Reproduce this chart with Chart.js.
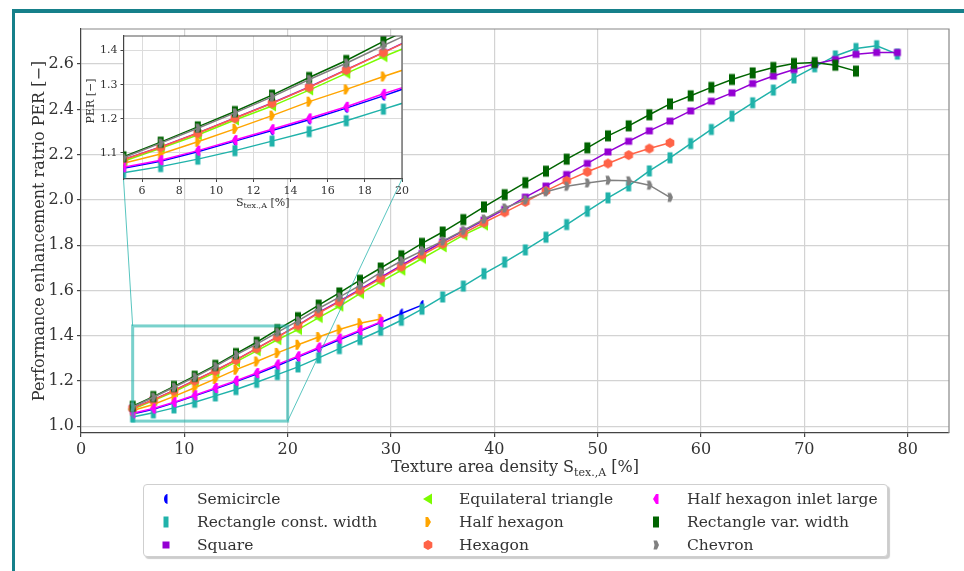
<!DOCTYPE html>
<html lang="en">
<head>
<meta charset="utf-8">
<title>PER vs texture area density</title>
<script src="https://cdn.jsdelivr.net/npm/chart.js"></script>
<style>
  body { margin: 0; background: #fff; font-family: "DejaVu Serif", "Liberation Serif", serif; }
  #wrap { position: relative; width: 964px; height: 571px; overflow: hidden; background: #fff; }
  #frame { position: absolute; left: 12px; top: 9px; width: 1000px; height: 600px;
           border-left: 3px solid #16808a; border-top: 4px solid #16808a; }
  #main { position: absolute; left: 0; top: 0; }
  #inset { position: absolute; left: 70px; top: 25px; }
  #legend { position: absolute; left: 143px; top: 484px; width: 745px; height: 73px;
            box-sizing: border-box; border: 1px solid #cfcfcf; border-radius: 4px;
            box-shadow: 2px 2px 1px rgba(0,0,0,0.2); background: #fff;
            display: grid; grid-template-rows: repeat(3, 23px); grid-auto-flow: column;
            grid-template-columns: 262px 228px auto; padding: 2px 0 0 14px; }
  .item { display: flex; align-items: center; font-family: "DejaVu Serif", "Liberation Serif", serif;
          font-size: 15.5px; color: #333; white-space: nowrap; }
  .item canvas { margin-right: 23px; }
</style>
</head>
<body>
<div id="wrap">
  <div id="frame"></div>
  <canvas id="main" width="964" height="571"></canvas>
  <canvas id="inset" width="345" height="195"></canvas>
  <div id="legend"></div>
</div>
<script>
// x positions of the measurements (texture area density, %)
const X_POS = [5, 7, 9, 11, 13, 15, 17, 19, 21, 23, 25, 27, 29, 31, 33, 35, 37, 39, 41, 43,
               45, 47, 49, 51, 53, 55, 57, 59, 61, 63, 65, 67, 69, 71, 73, 75, 77, 79];

// PER values per texture shape
const SEMICIRCLE = [1.054, 1.075, 1.103, 1.134, 1.165, 1.197, 1.231, 1.267, 1.305, 1.343, 1.382, 1.420, 1.458, 1.498, 1.535];
const RECT_CONST = [1.041, 1.059, 1.081, 1.106, 1.134, 1.162, 1.194, 1.228,
                    1.262, 1.302, 1.343, 1.383, 1.424, 1.468, 1.517, 1.571, 1.619, 1.674,
                    1.725, 1.779, 1.835, 1.891, 1.950, 2.009, 2.062, 2.128, 2.186, 2.249,
                    2.311, 2.370, 2.429, 2.485, 2.539, 2.588, 2.636, 2.669, 2.681, 2.644];
const SQUARE = [1.080, 1.117, 1.158, 1.202, 1.246, 1.293, 1.344, 1.395,
                1.447, 1.503, 1.552, 1.604, 1.657, 1.711, 1.763, 1.815, 1.862, 1.910,
                1.958, 2.012, 2.061, 2.112, 2.161, 2.212, 2.259, 2.305, 2.348, 2.393,
                2.436, 2.473, 2.514, 2.547, 2.576, 2.600, 2.620, 2.643, 2.651, 2.651];
const TRIANGLE = [1.075, 1.113, 1.152, 1.196, 1.237, 1.284, 1.333, 1.382,
                  1.427, 1.480, 1.530, 1.586, 1.638, 1.689, 1.741, 1.792, 1.844, 1.888];
const HALF_HEX = [1.069, 1.096, 1.132, 1.170, 1.209, 1.250, 1.286, 1.324, 1.360, 1.394, 1.427, 1.455, 1.474];
const HEXAGON = [1.079, 1.116, 1.157, 1.201, 1.245, 1.292, 1.343, 1.394,
                 1.445, 1.500, 1.549, 1.600, 1.652, 1.705, 1.756, 1.806, 1.852, 1.900,
                 1.945, 1.991, 2.040, 2.084, 2.124, 2.161, 2.198, 2.227, 2.252];
const HALF_HEX_INLET = [1.057, 1.078, 1.106, 1.137, 1.169, 1.201, 1.235, 1.273, 1.309, 1.348, 1.387, 1.424, 1.461];
const RECT_VAR = [1.088, 1.131, 1.176, 1.221, 1.269, 1.321, 1.371, 1.427,
                  1.480, 1.535, 1.589, 1.645, 1.699, 1.753, 1.808, 1.858, 1.913, 1.969,
                  2.023, 2.076, 2.127, 2.180, 2.230, 2.283, 2.327, 2.376, 2.424, 2.460,
                  2.497, 2.532, 2.561, 2.585, 2.603, 2.607, 2.595, 2.569];
const CHEVRON = [1.085, 1.128, 1.172, 1.217, 1.264, 1.315, 1.363, 1.415,
                 1.465, 1.520, 1.570, 1.622, 1.680, 1.730, 1.775, 1.818, 1.865, 1.915,
                 1.964, 2.000, 2.036, 2.060, 2.075, 2.087, 2.084, 2.065, 2.011];

// legend order (matplotlib fills columns first)
const NAMES = ['Semicircle', 'Rectangle const. width', 'Square', 'Equilateral triangle', 'Half hexagon',
               'Hexagon', 'Half hexagon inlet large', 'Rectangle var. width', 'Chevron'];
const VALUES = [SEMICIRCLE, RECT_CONST, SQUARE, TRIANGLE, HALF_HEX, HEXAGON, HALF_HEX_INLET, RECT_VAR, CHEVRON];
const COLORS = ['#0000ff', '#20b2aa', '#9400d3', '#7cfc00', '#ffa500', '#ff6347', '#ff00ff', '#006400', '#808080'];
const MARKERS = ['semicircle', 'rectConst', 'square', 'triangle', 'halfHex', 'hexagon', 'halfHexInlet', 'rectVar', 'chevron'];

// ticks and ranges
const X_TICKS = [0, 10, 20, 30, 40, 50, 60, 70, 80];
const Y_TICKS = [1.0, 1.2, 1.4, 1.6, 1.8, 2.0, 2.2, 2.4, 2.6];
const INSET_X_TICKS = [6, 8, 10, 12, 14, 16, 18, 20];
const INSET_Y_TICKS = [1.1, 1.2, 1.3, 1.4];
const INSET_X = [5, 20];
const INSET_Y = [1.0226, 1.443];

const FONT = '"DejaVu Serif", "Liberation Serif", serif';
const INSET_LEFT = 70, INSET_TOP = 25;

function poly(g, pts) {
  g.moveTo(pts[0][0], pts[0][1]);
  for (let i = 1; i < pts.length; i++) g.lineTo(pts[i][0], pts[i][1]);
}

function makeMarker(kind, color) {
  const c = document.createElement('canvas');
  c.width = 16; c.height = 16;
  const g = c.getContext('2d');
  const cx = 8, cy = 8;
  g.fillStyle = color;
  g.beginPath();
  switch (kind) {
    case 'semicircle': g.ellipse(cx + 1.5, cy, 3.5, 5, 0, Math.PI / 2, Math.PI * 1.5); break;
    case 'rectConst': g.rect(cx - 2.5, cy - 5.5, 5, 11); break;
    case 'rectVar': g.rect(cx - 3, cy - 5.5, 6, 11); break;
    case 'square': g.rect(cx - 3.5, cy - 3.5, 7, 7); break;
    case 'triangle': poly(g, [[cx - 5, cy], [cx + 4, cy - 5.5], [cx + 4, cy + 5.5]]); break;
    case 'halfHex': poly(g, [[cx - 2.5, cy - 5], [cx, cy - 5], [cx + 3, cy], [cx, cy + 5], [cx - 2.5, cy + 5]]); break;
    case 'halfHexInlet': poly(g, [[cx + 2.5, cy - 5], [cx, cy - 5], [cx - 3, cy], [cx, cy + 5], [cx + 2.5, cy + 5]]); break;
    case 'hexagon': {
      const pts = [];
      for (let k = 0; k < 6; k++) {
        const a = Math.PI / 2 + k * Math.PI / 3;
        pts.push([cx + 5 * Math.cos(a), cy + 5 * Math.sin(a)]);
      }
      poly(g, pts);
      break;
    }
    case 'chevron': poly(g, [[cx - 2.5, cy - 4.5], [cx + 1, cy - 4.5], [cx + 3, cy], [cx + 1, cy + 4.5], [cx - 2.5, cy + 4.5], [cx - 1.5, cy]]); break;
  }
  g.closePath();
  g.fill();
  return c;
}

function buildDatasets(clip) {
  return NAMES.map((name, i) => ({
    label: name,
    data: VALUES[i].map((v, j) => ({ x: X_POS[j], y: v })),
    borderColor: COLORS[i],
    backgroundColor: COLORS[i],
    borderWidth: 1.5,
    pointStyle: makeMarker(MARKERS[i], COLORS[i]),
    pointRadius: 5,
    tension: 0,
    order: NAMES.length - i,
    clip: clip
  }));
}

function drawSubLabel(ctx, cx, cy, main, sub, tail, size) {
  const big = size + 'px ' + FONT, small = Math.round(size * 0.7) + 'px ' + FONT;
  ctx.font = big; const w1 = ctx.measureText(main).width, w3 = ctx.measureText(tail).width;
  ctx.font = small; const w2 = ctx.measureText(sub).width;
  let x = cx - (w1 + w2 + w3) / 2;
  ctx.textAlign = 'left'; ctx.textBaseline = 'middle';
  ctx.font = big; ctx.fillText(main, x, cy); x += w1;
  ctx.font = small; ctx.fillText(sub, x, cy + size * 0.3); x += w2;
  ctx.font = big; ctx.fillText(tail, x, cy);
}

function axisOpts(min, max, ticks, fmt, size, tickLen, fitProp, fitVal, gridColor, gridWidth) {
  return {
    type: 'linear', min: min, max: max,
    afterBuildTicks: s => { s.ticks = ticks.map(v => ({ value: v })); },
    afterFit: s => { s[fitProp] = fitVal; },
    grid: { color: gridColor, lineWidth: gridWidth, tickColor: '#444', tickLength: tickLen, drawTicks: true },
    border: { color: '#444', width: 1.2 },
    ticks: { callback: fmt, color: '#333', padding: 3, font: { family: FONT, size: size } }
  };
}

const insetDecor = {
  id: 'insetDecor',
  beforeDraw(chart) {
    const { ctx, chartArea: a } = chart;
    ctx.save();
    ctx.fillStyle = '#fff';
    ctx.fillRect(a.left, a.top, a.right - a.left, a.bottom - a.top);
    ctx.restore();
  },
  afterDraw(chart) {
    const { ctx, chartArea: a } = chart;
    ctx.save();
    ctx.strokeStyle = '#555'; ctx.lineWidth = 1.2;
    ctx.beginPath();
    ctx.moveTo(a.left, a.top); ctx.lineTo(a.right, a.top); ctx.lineTo(a.right, a.bottom);
    ctx.stroke();
    ctx.fillStyle = '#333';
    ctx.translate(21, 76); ctx.rotate(-Math.PI / 2);
    ctx.font = '11px ' + FONT; ctx.textAlign = 'center'; ctx.textBaseline = 'middle';
    ctx.fillText('PER [\u2212]', 0, 0);
    ctx.restore();
    ctx.save();
    ctx.fillStyle = '#333';
    drawSubLabel(ctx, (a.left + a.right) / 2, 178, 'S', 'tex.,A', ' [%]', 11);
    ctx.restore();
  }
};

const insetChart = new Chart(document.getElementById('inset'), {
  type: 'line',
  data: { datasets: buildDatasets(0) },
  options: {
    animation: false, responsive: false,
    layout: { padding: { left: 0, top: 11, right: 13, bottom: 0 } },
    plugins: { legend: { display: false }, tooltip: { enabled: false } },
    scales: {
      x: axisOpts(INSET_X[0], INSET_X[1], INSET_X_TICKS, v => String(v), 11, 3, 'height', 41, '#dcdcdc', 1),
      y: axisOpts(INSET_Y[0], INSET_Y[1], INSET_Y_TICKS, v => v.toFixed(1), 11, 3, 'width', 53.5, '#dcdcdc', 1)
    }
  },
  plugins: [insetDecor]
});

const mainDecor = {
  id: 'mainDecor',
  afterDatasetsDraw(chart) {
    const { ctx, scales: { x, y } } = chart;
    const rx0 = x.getPixelForValue(INSET_X[0]), rx1 = x.getPixelForValue(INSET_X[1]);
    const ryTop = y.getPixelForValue(INSET_Y[1]), ryBot = y.getPixelForValue(INSET_Y[0]);
    const ix = insetChart.scales.x, iy = insetChart.scales.y;
    const iLeft = INSET_LEFT + ix.getPixelForValue(INSET_X[0]);
    const iRight = INSET_LEFT + ix.getPixelForValue(INSET_X[1]);
    const iBot = INSET_TOP + iy.getPixelForValue(INSET_Y[0]);
    ctx.save();
    ctx.strokeStyle = 'rgba(32,178,170,0.75)'; ctx.lineWidth = 1;
    ctx.beginPath();
    ctx.moveTo(iLeft, iBot); ctx.lineTo(rx0, ryTop);
    ctx.moveTo(iRight, iBot); ctx.lineTo(rx1, ryBot);
    ctx.stroke();
    ctx.strokeStyle = 'rgba(32,178,170,0.6)'; ctx.lineWidth = 3;
    ctx.strokeRect(rx0, ryTop, rx1 - rx0, ryBot - ryTop);
    ctx.restore();
  },
  afterDraw(chart) {
    const { ctx, chartArea: a } = chart;
    ctx.save();
    ctx.strokeStyle = '#888'; ctx.lineWidth = 1.2;
    ctx.beginPath();
    ctx.moveTo(a.left, a.top); ctx.lineTo(a.right, a.top); ctx.lineTo(a.right, a.bottom);
    ctx.stroke();
    ctx.fillStyle = '#333';
    drawSubLabel(ctx, (a.left + a.right) / 2, 468, 'Texture area density S', 'tex.,A', ' [%]', 16);
    ctx.translate(40, (a.top + a.bottom) / 2); ctx.rotate(-Math.PI / 2);
    ctx.font = '16px ' + FONT; ctx.textAlign = 'center'; ctx.textBaseline = 'middle';
    ctx.fillText('Performance enhancement ratrio PER [\u2212]', 0, 0);
    ctx.restore();
  }
};

const mainChart = new Chart(document.getElementById('main'), {
  type: 'line',
  data: { datasets: buildDatasets(undefined) },
  options: {
    animation: false, responsive: false,
    layout: { padding: { left: 0, top: 29, right: 15, bottom: 0 } },
    plugins: { legend: { display: false }, tooltip: { enabled: false } },
    scales: {
      x: axisOpts(0, 84, X_TICKS, v => String(v), 16, 4, 'height', 138, '#d3d3d3', 1.2),
      y: axisOpts(0.97, 2.755, Y_TICKS, v => v.toFixed(1), 16, 4, 'width', 81, '#d3d3d3', 1.2)
    }
  },
  plugins: [mainDecor]
});

// legend built from the chart's datasets
const legend = document.getElementById('legend');
mainChart.data.datasets.forEach((ds, i) => {
  const item = document.createElement('div');
  item.className = 'item';
  item.appendChild(makeMarker(MARKERS[i], COLORS[i]));
  const span = document.createElement('span');
  span.textContent = ds.label;
  item.appendChild(span);
  legend.appendChild(item);
});
</script>
</body>
</html>
